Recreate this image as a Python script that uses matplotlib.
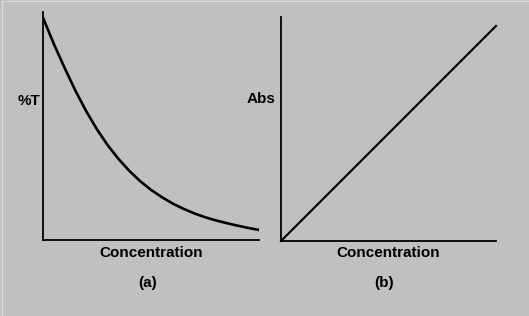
import matplotlib.pyplot as plt
from matplotlib.lines import Line2D

# (a) %T vs concentration
conc_a = [0.0, 0.05, 0.10, 0.15, 0.20, 0.25, 0.30, 0.35, 0.40, 0.45, 0.50,
          0.55, 0.60, 0.65, 0.70, 0.75, 0.80, 0.85, 0.90, 0.95, 1.0]
trans_a = [97.5, 86.0, 75.5, 65.5, 56.5, 48.5, 41.5, 35.5, 30.3, 25.8, 22.0,
           18.8, 16.0, 13.7, 11.7, 10.0, 8.6, 7.4, 6.3, 5.3, 4.4]

# (b) Abs vs concentration, straight line
conc_b = [0.0, 1.0]
abs_b = [0.0, 96.0]

W, H = 529, 316
bg = '#c0c0c0'
font = {'family': 'Liberation Sans', 'weight': 'bold', 'size': 11}

fig = plt.figure(figsize=(W / 100, H / 100), dpi=100, facecolor=bg)

# faint light edge at top and left, like the original window frame
fig.add_artist(Line2D([0.004, 1], [0.996, 0.996], color='#dcdcdc', lw=0.8))
fig.add_artist(Line2D([0.004, 0.004], [0, 0.996], color='#dcdcdc', lw=0.8))


def add_panel(x0, x1, ytop, ybot):
    ax = fig.add_axes([x0 / W, 1 - ybot / H, (x1 - x0) / W, (ybot - ytop) / H])
    ax.set_facecolor('none')
    ax.set_xlim(0, 1)
    ax.set_ylim(0, 100)
    for s in ['top', 'right']:
        ax.spines[s].set_visible(False)
    for s in ['left', 'bottom']:
        ax.spines[s].set_linewidth(1.3)
        ax.spines[s].set_color('black')
    ax.set_xticks([])
    ax.set_yticks([])
    return ax


ax1 = add_panel(43, 259, 12, 240)
ax1.plot(conc_a, trans_a, color='black', lw=1.9, solid_joinstyle='round')

ax2 = add_panel(281, 496, 17, 241)
ax2.plot(conc_b, abs_b, color='black', lw=1.5, clip_on=False)

# labels placed in pixel positions of the figure
def label(txt, x, y):
    fig.text(x / W, 1 - y / H, txt, ha='center', va='center', fontdict=font)

label('%T', 29, 101)
label('Abs', 261, 99)
label('Concentration', 151, 253)
label('Concentration', 388, 253)
label('(a)', 148, 283)
label('(b)', 384, 283)

fig.savefig('out.png', dpi=100, facecolor=bg)
